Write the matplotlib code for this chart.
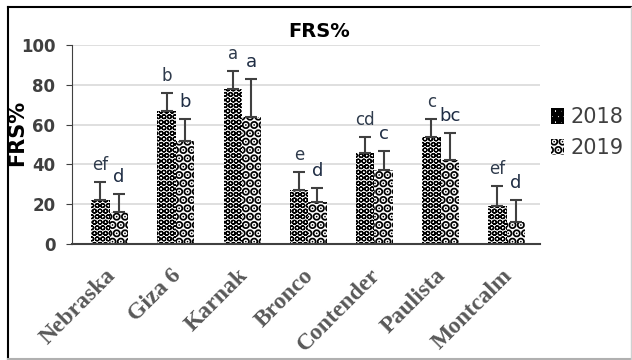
import numpy as np
import matplotlib
matplotlib.use("Agg")
import matplotlib.pyplot as plt
from matplotlib.lines import Line2D
from matplotlib.transforms import ScaledTranslation

cultivars = ["Nebraska", "Giza 6", "Karnak", "Bronco", "Contender", "Paulista", "Montcalm"]
frs_2018 = [22, 67, 78, 27, 46, 54, 19]
frs_2019 = [16, 52, 64, 21, 37, 42, 11]
err_2018 = [9, 9, 9, 9, 8, 9, 10]
err_2019 = [9, 11, 19, 7, 10, 14, 11]
letters_2018 = ["ef", "b", "a", "e", "cd", "c", "ef"]
letters_2019 = ["d", "b", "a", "d", "c", "bc", "d"]
years = ["2018", "2019"]

dark = "#404040"

fig = plt.figure(figsize=(6.32, 3.6), dpi=100)
# frame around the picture: dark on left/top, light on right/bottom
fig.add_artist(Line2D([0.0127, 0.0127], [0.003, 0.981], color="black", lw=1.5))
fig.add_artist(Line2D([0.0127, 0.998], [0.981, 0.981], color="black", lw=1.5))
fig.add_artist(Line2D([0.0127, 0.998], [0.003, 0.003], color="#b0b0b0", lw=1.5))
fig.add_artist(Line2D([0.998, 0.998], [0.003, 0.981], color="#d0d0d0", lw=1.0))

ax = fig.add_axes([0.114, 0.322, 0.74, 0.553])

x = np.arange(len(cultivars))
w = 0.28
plt.rcParams["hatch.linewidth"] = 0.9
b1 = ax.bar(x - w / 2, frs_2018, w, color="white", edgecolor="black", linewidth=0,
            hatch="OOO", label=years[0], zorder=2)
plt.rcParams["hatch.linewidth"] = 4.5
b2 = ax.bar(x + w / 2, frs_2019, w, color="white", edgecolor="black", linewidth=0,
            hatch="..", label=years[1], zorder=2)
ax.errorbar(x - w / 2, frs_2018, yerr=[np.zeros(len(x)), err_2018], fmt="none",
            ecolor=dark, elinewidth=1.5, capsize=4, capthick=1.5, zorder=3)
ax.errorbar(x + w / 2, frs_2019, yerr=[np.zeros(len(x)), err_2019], fmt="none",
            ecolor=dark, elinewidth=1.5, capsize=4, capthick=1.5, zorder=3)

for i in range(len(x)):
    ax.text(x[i] - w / 2, frs_2018[i] + err_2018[i] + 4, letters_2018[i],
            ha="center", va="bottom", fontsize=12, color="#2f3b4c")
    ax.text(x[i] + w / 2, frs_2019[i] + err_2019[i] + 4, letters_2019[i],
            ha="center", va="bottom", fontsize=13, color="#1f2d44")

ax.set_ylim(0, 100)
ax.set_xlim(-0.57, 6.5)
ax.set_yticks(range(0, 101, 20))
ax.yaxis.grid(True, color="#d9d9d9", linewidth=1.2, zorder=0)
ax.set_axisbelow(True)
for s in ["top", "right"]:
    ax.spines[s].set_visible(False)
ax.spines["left"].set_color(dark)
ax.spines["bottom"].set_color(dark)
ax.spines["bottom"].set_linewidth(1.5)
ax.tick_params(axis="y", labelsize=12, colors=dark, length=4, pad=8)
for lbl in ax.get_yticklabels():
    lbl.set_fontweight("bold")
ax.tick_params(axis="x", length=0, pad=15)
ax.set_xticks(x)
ax.set_xticklabels(cultivars, rotation=45, ha="right", rotation_mode="anchor",
                   family="Liberation Serif", fontweight="bold", fontsize=17, color="#595959")
shift = ScaledTranslation(-0.05, 0, fig.dpi_scale_trans)
for lbl in ax.get_xticklabels():
    lbl.set_transform(lbl.get_transform() + shift)
ax.set_ylabel("FRS%", fontsize=15, fontweight="bold")
ax.yaxis.set_label_coords(-0.095, 0.56)
ax.set_title("FRS%", fontsize=14, fontweight="bold", pad=6, x=0.528)

leg = ax.legend(loc="center left", bbox_to_anchor=(0.985, 0.56), frameon=False,
                fontsize=15, handlelength=0.6, handleheight=0.8, handletextpad=0.3,
                labelspacing=0.5)
for t in leg.get_texts():
    t.set_color(dark)

fig.savefig("out.png", dpi=100)
